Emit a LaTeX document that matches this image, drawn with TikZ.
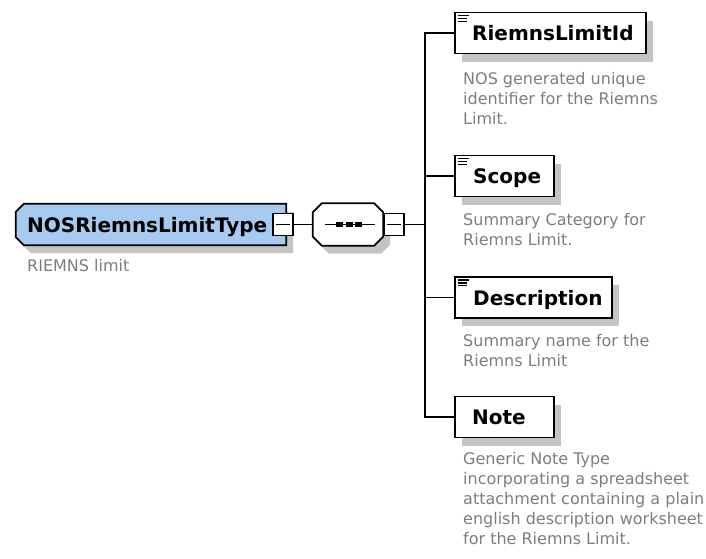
\documentclass[tikz,border=0pt]{standalone}
\usepackage{fontspec}
\setmainfont{DejaVu Sans}
\usetikzlibrary{shadows,calc}
\definecolor{rootblue}{RGB}{166,202,240}
\definecolor{shadowgray}{RGB}{196,196,196}
\definecolor{descgray}{RGB}{125,125,125}
\tikzset{
  shad/.style={general shadow={shadow xshift=7pt,shadow yshift=-8pt,fill=shadowgray}},
  elembox/.style={rectangle,draw=black,line width=1.8pt,fill=white,inner sep=0pt,minimum height=41pt,shad},
  holder/.style={rectangle,inner sep=0pt},
  shadowfill/.style={fill=shadowgray,transform canvas={xshift=7pt,yshift=-8pt}},
  outline/.style={draw=black,line width=1.8pt,line join=miter},
  minusbox/.style={rectangle,draw=black,line width=1.5pt,fill=white,inner sep=0pt,minimum width=20pt,minimum height=22pt},
  title/.style={anchor=base west,inner sep=0pt,font=\fontsize{20}{24}\selectfont\bfseries},
  desc/.style={anchor=north west,inner sep=0pt,align=left,text=descgray,font=\fontsize{16}{20}\selectfont},
  conn/.style={draw=black,line width=1.8pt},
  icon/.style={draw=black,line width=1.4pt}
}
\begin{document}
\begin{tikzpicture}[x=1pt,y=-1pt]
\useasboundingbox (0,0) rectangle (706,558);
% root (complex type box, chamfered on the left)
\node[holder,minimum width=270pt,minimum height=41pt] (root) at (151,224.5) {};
\fill[shadowfill] ($(root.north west)+(8,0)$) -- (root.north east) -- (root.south east)
   -- ($(root.south west)+(8,0)$) -- ($(root.south west)+(0,-8)$) -- ($(root.north west)+(0,8)$) -- cycle;
\filldraw[outline,fill=rootblue] ($(root.north west)+(8,0)$) -- (root.north east) -- (root.south east)
   -- ($(root.south west)+(8,0)$) -- ($(root.south west)+(0,-8)$) -- ($(root.north west)+(0,8)$) -- cycle;
\node[title] (roott) at (27,232) {NOSRiemnsLimitType};
\node[desc] (rootd) at (27,259) {RIEMNS limit};
\node[minusbox] (m1) at (283,224.5) {};
\draw[line width=1.5pt] ($(m1.center)+(-7,0)$) -- ($(m1.center)+(7,0)$);
% sequence compositor (octagon)
\node[holder,minimum width=70pt,minimum height=42pt] (seq) at (348,224.5) {};
\fill[shadowfill] ($(seq.north west)+(9,0)$) -- ($(seq.north east)+(-9,0)$) -- ($(seq.north east)+(0,9)$)
   -- ($(seq.south east)+(0,-9)$) -- ($(seq.south east)+(-9,0)$) -- ($(seq.south west)+(9,0)$)
   -- ($(seq.south west)+(0,-9)$) -- ($(seq.north west)+(0,9)$) -- cycle;
\filldraw[outline,fill=white] ($(seq.north west)+(9,0)$) -- ($(seq.north east)+(-9,0)$) -- ($(seq.north east)+(0,9)$)
   -- ($(seq.south east)+(0,-9)$) -- ($(seq.south east)+(-9,0)$) -- ($(seq.south west)+(9,0)$)
   -- ($(seq.south west)+(0,-9)$) -- ($(seq.north west)+(0,9)$) -- cycle;
\draw[line width=1.8pt] ($(seq.center)+(-23,0)$) -- ($(seq.center)+(27,0)$);
\foreach \dx in {-8.5,1.5,10.5}
  \fill ($(seq.center)+(\dx,0)+(-3.5,-2.5)$) rectangle ++(7,5);
\node[minusbox] (m2) at (394,224.5) {};
\draw[line width=1.5pt] ($(m2.center)+(-7,0)$) -- ($(m2.center)+(7,0)$);
\coordinate (tr) at (425,224.5);
\draw[conn] (m1.east) -- (seq.west);
\draw[conn] (m2.east) -- (tr);
% children
\node[elembox,minimum width=191pt] (b1) at (550.5,33) {};
\node[elembox,minimum width=99pt] (b2) at (504.5,176) {};
\node[elembox,minimum width=157pt] (b3) at (533.5,297.5) {};
\node[elembox,minimum width=99pt] (b4) at (504.5,417) {};
\foreach \b in {b1,b2,b3}{
  \draw[icon] ($(\b.north west)+(3.5,4)$) -- ++(11,0);
  \draw[icon] ($(\b.north west)+(3.5,6.8)$) -- ++(9,0);
  \draw[icon] ($(\b.north west)+(3.5,9.6)$) -- ++(9,0);
}
\node[title] (t1) at (472,40.5) {RiemnsLimitId};
\node[title] (t2) at (473,183.5) {Scope};
\node[title] (t3) at (473,305) {Description};
\node[title] (t4) at (472,424.5) {Note};
\node[desc] (d1) at (463,72) {NOS generated unique\\identifier for the Riemns\\Limit.};
\node[desc] (d2) at (463,213) {Summary Category for\\Riemns Limit.};
\node[desc] (d3) at (463,334) {Summary name for the\\Riemns Limit};
\node[desc] (d4) at (463,452) {Generic Note Type\\incorporating a spreadsheet\\attachment containing a plain\\english description worksheet\\for the Riemns Limit.};
\draw[conn] (tr) |- (b1.west);
\draw[conn] (tr) |- (b2.west);
\draw[conn] (tr) |- (b3.west);
\draw[conn] (tr) |- (b4.west);
\end{tikzpicture}
\end{document}
